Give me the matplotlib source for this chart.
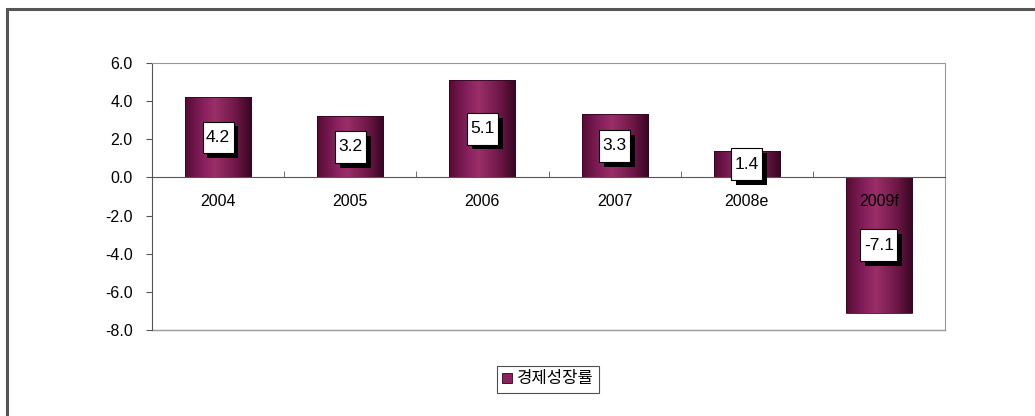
import matplotlib.pyplot as plt
import matplotlib.patheffects as pe
import numpy as np
from matplotlib.colors import LinearSegmentedColormap
from matplotlib.patches import Patch, Rectangle

plt.rcParams['font.family'] = ['Liberation Sans', 'Noto Sans CJK KR', 'DejaVu Sans']

years = ['2004', '2005', '2006', '2007', '2008e', '2009f']
growth = [4.2, 3.2, 5.1, 3.3, 1.4, -7.1]
series_name = '경제성장률'

# cylinder-like shading across each bar
bar_cmap = LinearSegmentedColormap.from_list(
    'cyl', [(0.0, '#560a34'), (0.3, '#8a2260'), (0.45, '#9a2e68'),
            (0.75, '#701848'), (1.0, '#360522')])
grad = np.linspace(0, 1, 256).reshape(1, -1)

fig = plt.figure(figsize=(10.35, 4.16), dpi=100)
ax = fig.add_axes([152 / 1035, 1 - 330 / 416, (945 - 152) / 1035, (330 - 63) / 416])

# x axis runs along zero (set first, it resets the tick settings)
ax.spines['bottom'].set_position(('data', 0))

x = np.arange(len(years))
bars = ax.bar(x, growth, width=0.5, facecolor='none', edgecolor='#360522',
              linewidth=0.6, zorder=2)
for rect in bars:
    x0, w = rect.get_x(), rect.get_width()
    y0, h = rect.get_y(), rect.get_height()
    im = ax.imshow(grad, cmap=bar_cmap, aspect='auto', zorder=1.5,
                   extent=[x0, x0 + w, min(y0, y0 + h), max(y0, y0 + h)])
    im.set_clip_path(rect)

# value boxes with a drop shadow
for xi, v in zip(x, growth):
    t = ax.text(xi, v / 2, f'{v:.1f}', ha='center', va='center', fontsize=12.5,
                color='black', zorder=5,
                bbox=dict(boxstyle='square,pad=0.2', mutation_aspect=2.4,
                          facecolor='white', edgecolor='black', linewidth=0.8))
    t.get_bbox_patch().set_path_effects([
        pe.SimplePatchShadow(offset=(3.5, -3.5), shadow_rgbFace='black', alpha=1.0),
        pe.Normal()])

ax.set_xlim(-0.5, len(years) - 0.5)
ax.set_ylim(-8, 6)
ax.set_yticks(np.arange(-8, 6.1, 2))
ax.set_yticklabels([f'{t:.1f}' for t in np.arange(-8, 6.1, 2)])
ax.tick_params(axis='y', direction='out', length=4, color='#555555', pad=10,
               labelsize=11.5)

# categories sit on the zero line; boundary ticks point upward
ax.set_xticks(x)
ax.set_xticklabels(years)
ax.set_xticks(np.arange(-0.5, len(years)), minor=True)
ax.tick_params(axis='x', which='major', length=0, pad=12, labelsize=11.5)
ax.tick_params(axis='x', which='minor', direction='in', length=4, color='#555555')
ax.spines['bottom'].set_color('#555555')
ax.spines['bottom'].set_zorder(3)
ax.spines['left'].set_color('#555555')
for side in ['top', 'right']:
    ax.spines[side].set_color('#999999')
ax.axhline(-8, color='#999999', linewidth=1.0, zorder=0.5, clip_on=False)

handle = Patch(facecolor='#8a2260', edgecolor='#2a0418', linewidth=0.6)
leg = fig.legend([handle], [series_name], loc='center',
                 bbox_to_anchor=(548 / 1035, 1 - 379 / 416),
                 frameon=True, fancybox=False, handlelength=0.55, handleheight=0.55,
                 handletextpad=0.3, borderpad=0.3,
                 prop={'family': ['Noto Sans CJK KR'], 'size': 12})
leg.get_frame().set_edgecolor('#222222')
leg.get_frame().set_linewidth(0.8)

# outer frame around the whole chart
fig.patches.append(Rectangle((7 / 1035, -0.1), 1.2, 1 - 9 / 416 + 0.1,
                             transform=fig.transFigure, fill=False,
                             edgecolor='#555555', linewidth=2.2))

fig.savefig('out.png', dpi=100, facecolor='white')
